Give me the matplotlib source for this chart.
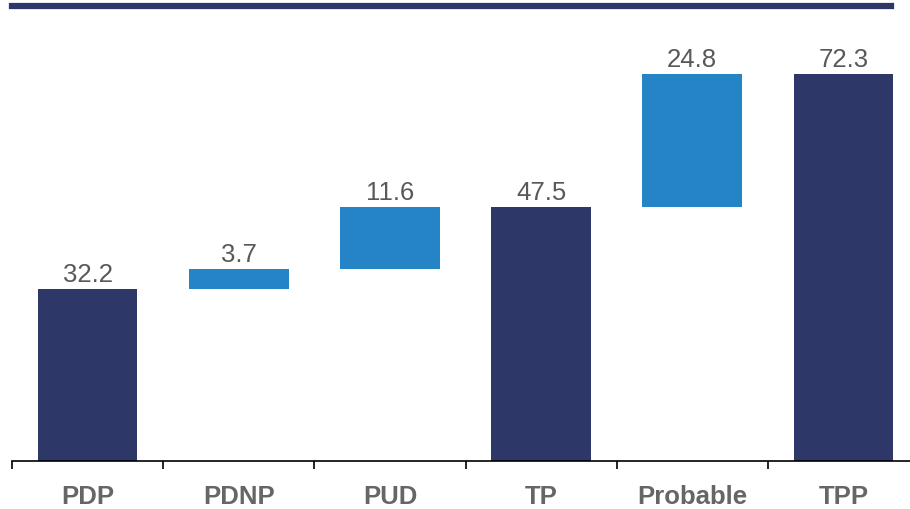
import matplotlib.pyplot as plt
from matplotlib.lines import Line2D
import numpy as np

categories = ['PDP', 'PDNP', 'PUD', 'TP', 'Probable', 'TPP']
values = [32.2, 3.7, 11.6, 47.5, 24.8, 72.3]
is_total = [True, False, False, True, False, True]

dark = '#2E3868'
light = '#2484C6'
grey = '#595959'

plt.rcParams['font.family'] = ['Liberation Sans', 'DejaVu Sans']

fig = plt.figure(figsize=(9.1, 5.09), dpi=100)
ax = fig.add_axes([12 / 910, 1 - 461 / 509, 898 / 910, 441 / 509])

x = np.arange(len(categories))
bottoms = []
running = 0
for v, tot in zip(values, is_total):
    if tot:
        bottoms.append(0)
        running = v
    else:
        bottoms.append(running)
        running += v

colors = [dark if t else light for t in is_total]
ax.bar(x, values, bottom=bottoms, width=0.66, color=colors)

for xi, v, b in zip(x, values, bottoms):
    ax.annotate(f'{v:.1f}', (xi, b + v), xytext=(0, 1.5), textcoords='offset points',
                ha='center', va='bottom', fontsize=18.5, color=grey)

ax.set_xlim(-0.5, 5.44)
ax.set_ylim(0, 82.4)
ax.set_xticks(x)
ax.set_xticklabels(categories, fontsize=18.5, fontweight='bold', color='#666666')
ax.tick_params(axis='x', length=0, pad=17)
ax.set_xticks(np.arange(len(categories)) - 0.5, minor=True)
ax.tick_params(axis='x', which='minor', length=6, width=1.2, direction='out')
ax.set_yticks([])
for s in ['top', 'right', 'left']:
    ax.spines[s].set_visible(False)
ax.spines['bottom'].set_linewidth(1.2)

# heavy rule across the top
fig.add_artist(Line2D([12 / 910, 891 / 910], [1 - 5.5 / 509, 1 - 5.5 / 509],
                      color=dark, linewidth=4.5, transform=fig.transFigure))

fig.savefig('out.png', dpi=100)
